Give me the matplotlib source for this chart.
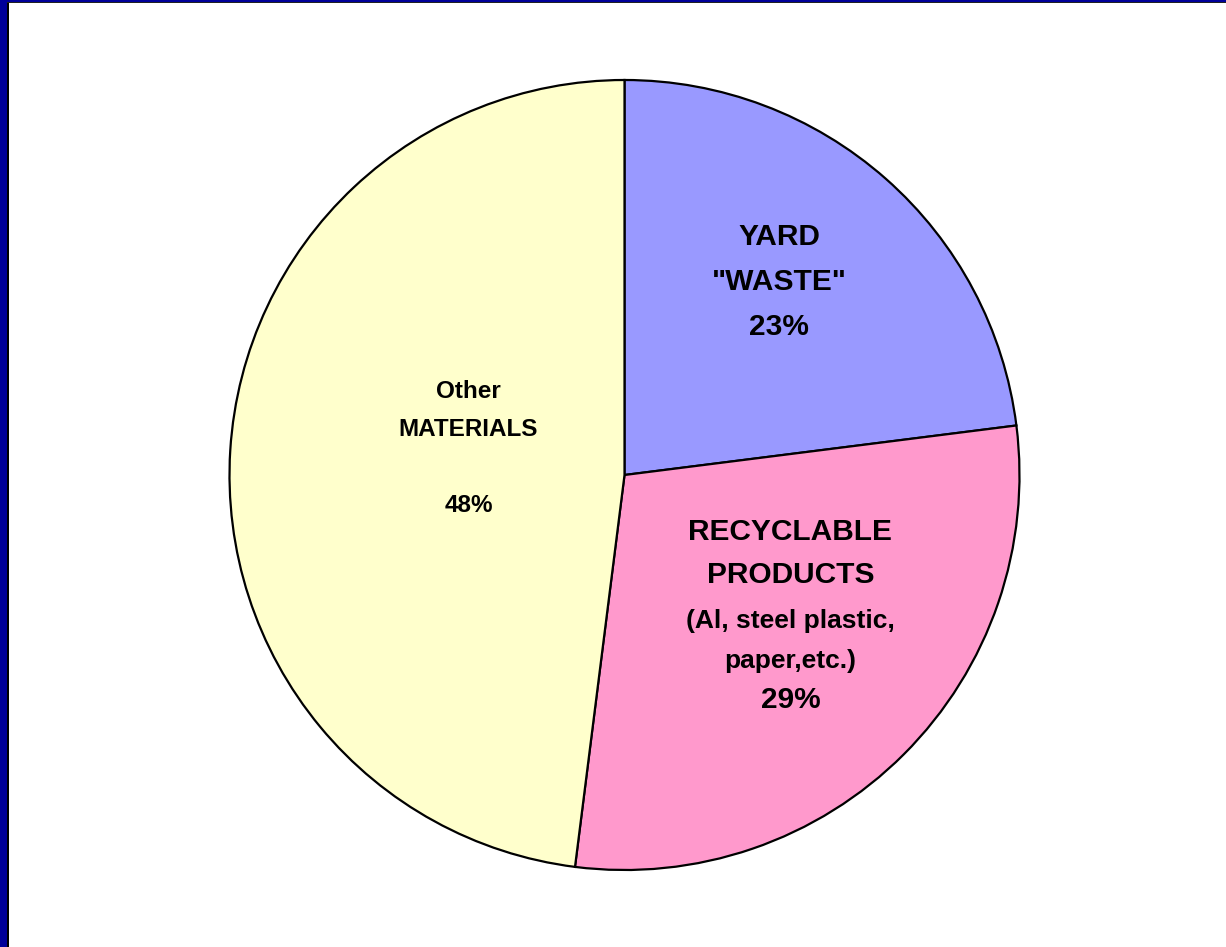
import matplotlib
matplotlib.use("Agg")
import matplotlib.pyplot as plt
from matplotlib.patches import Rectangle

# ---- data ----
categories = ['YARD "WASTE"', 'RECYCLABLE PRODUCTS', 'Other MATERIALS']
shares = [23, 29, 48]
colors = ['#9999FF', '#FF99CC', '#FFFFCC']

label_lines = [
    ['YARD', '"WASTE"', '23%'],
    ['RECYCLABLE', 'PRODUCTS', '(Al, steel plastic,', 'paper,etc.)', '29%'],
    ['Other', 'MATERIALS', '48%'],
]

# ---- layout (style only) ----
label_x = [0.392, 0.420, -0.395]
label_baselines = [
    [0.582, 0.468, 0.354],
    [-0.165, -0.273, -0.387, -0.489, -0.590],
    [0.195, 0.099, -0.094],
]
label_sizes = [
    [21.5, 21.5, 21.5],
    [21.5, 21.5, 19, 19, 21.5],
    [17.5, 17.5, 17.5],
]

W, H = 1226, 947
fig = plt.figure(figsize=(W / 100, H / 100), dpi=100)
fig.patch.set_facecolor('white')

cx, cy, R = 624.5, 475, 395
ax = fig.add_axes([(cx - R) / W, (H - cy - R) / H, 2 * R / W, 2 * R / H])
ax.pie(shares, colors=colors, startangle=90, counterclock=False,
       wedgeprops=dict(edgecolor='black', linewidth=1.6))
ax.set_xlim(-1, 1)
ax.set_ylim(-1, 1)
ax.set_aspect('equal')
ax.axis('off')

for lines, x, ys, sizes in zip(label_lines, label_x, label_baselines, label_sizes):
    for txt, y, s in zip(lines, ys, sizes):
        ax.text(x, y, txt, ha='center', va='baseline', fontsize=s,
                fontweight='bold', family=['Liberation Sans', 'DejaVu Sans'],
                color='black')

# frame border (blue left and top edges with dark inner line)
fig.patches.append(Rectangle((0, 0), 7 / W, 1, transform=fig.transFigure,
                             facecolor='#000099', edgecolor='none', zorder=10))
fig.patches.append(Rectangle((7 / W, 0), 1.5 / W, 1, transform=fig.transFigure,
                             facecolor='black', edgecolor='none', zorder=10))
fig.patches.append(Rectangle((0, 1 - 2 / H), 1, 2 / H, transform=fig.transFigure,
                             facecolor='#000099', edgecolor='none', zorder=10))
fig.patches.append(Rectangle((7 / W, 1 - 3.2 / H), 1, 1.2 / H, transform=fig.transFigure,
                             facecolor='#222222', edgecolor='none', zorder=10))

fig.savefig('out.png', dpi=100, facecolor='white')
